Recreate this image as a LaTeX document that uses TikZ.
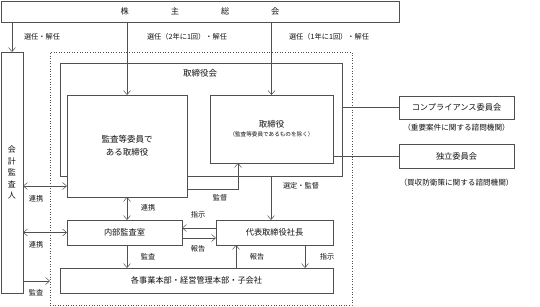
\documentclass[tikz,border=0pt]{standalone}
\usepackage{fontspec}
\setmainfont{Noto Sans CJK JP}
\usetikzlibrary{arrows.meta,positioning}
\definecolor{GovLine}{HTML}{505050}
\definecolor{GovInk}{HTML}{111111}

\begin{document}
\begin{tikzpicture}[
    x=1pt, y=-1pt,
    font=\fontsize{8.2}{10}\selectfont,
    >={Straight Barb[length=1.4mm,width=2.4mm]},
    box/.style={
        rectangle,
        draw=GovLine,
        line width=0.6pt,
        fill=white,
        inner sep=0pt,
        outer sep=0pt,
        align=center,
        text=GovInk
    },
    link/.style={
        ->,
        line width=0.5pt,
        draw=GovLine
    },
    twoway/.style={
        <->,
        line width=0.5pt,
        draw=GovLine
    },
    wire/.style={
        line width=0.5pt,
        draw=GovLine
    },
    tag/.style={
        inner sep=0pt,
        text=GovInk,
        font=\fontsize{7.2}{8}\selectfont
    },
    remark/.style={
        inner sep=0pt,
        text=GovInk,
        font=\fontsize{7.6}{9}\selectfont
    }
]
    \useasboundingbox (0,0) rectangle (540,307);

    \node[box, minimum width=398pt, minimum height=21pt] (meeting) at (200,11.5)
        {株\hspace{42pt}主\hspace{42pt}総\hspace{42pt}会};
    \node[box, minimum width=22pt, minimum height=241pt,
        font=\fontsize{8}{11.5}\selectfont] (auditor) at (12,172.5)
        {会\\計\\監\\査\\人};
    \node[draw=GovLine, dotted, line width=0.6pt, inner sep=0pt, outer sep=0pt,
        minimum width=302pt, minimum height=253pt] (group) at (201,178.5) {};
    \node[box, minimum width=282pt, minimum height=113pt] (board) at (201,119.5) {};
    \node[tag, font=\fontsize{8.5}{10}\selectfont] (boardname) at (200,73) {取締役会};
    \node[box, minimum width=120pt, minimum height=102pt,
        font=\fontsize{8.5}{13}\selectfont] (acd) at (127,146)
        {監査等委員で\\ある取締役};
    \node[box, minimum width=123pt, minimum height=68pt] (dir) at (271.5,129)
        {{\fontsize{8.5}{10}\selectfont 取締役}\\[-1pt]
         {\fontsize{5.6}{7}\selectfont （監査等委員であるものを除く）}};
    \node[box, minimum width=117pt, minimum height=25pt] (ceo) at (274.5,232.5)
        {代表取締役社長};
    \node[box, minimum width=115pt, minimum height=25pt] (iad) at (124.5,232.5)
        {内部監査室};
    \node[box, minimum width=273pt, minimum height=25pt] (units) at (196.5,280.5)
        {各事業本部・経営管理本部・子会社};
    \node[box, minimum width=115pt, minimum height=23pt] (comp) at (456.5,107.5)
        {コンプライアンス委員会};
    \node[remark, below=5pt of comp] (compnote) {（重要案件に関する諮問機関）};
    \node[box, minimum width=115pt, minimum height=24pt] (indep) at (456.5,156)
        {独立委員会};
    \node[remark, below=11pt of indep] (indepnote) {（買収防衛策に関する諮問機関）};

    \coordinate (supv) at (238,189);
    \coordinate (pick) at (271,0);
    \coordinate (repup) at (236,0);
    \coordinate (order) at (305,0);
    \coordinate (coopA) at (0,186);
    \coordinate (audit) at (0,281);

    \draw[link] (meeting.south -| auditor) -- (auditor.north);
    \draw[link] (meeting.south -| acd) -- (acd.north);
    \draw[link] (meeting.south -| dir) -- (dir.north);
    \draw[link] (acd.east |- supv) -| (dir.south -| supv);
    \draw[link] (board.south -| pick) -- (ceo.north -| pick);
    \draw[twoway] (acd.south) -- (acd.south |- iad.north);
    \draw[link] ([yshift=4.5pt]ceo.west) -- ([yshift=4.5pt]iad.east);
    \draw[link] ([yshift=-5.5pt]iad.east) -- ([yshift=-5.5pt]ceo.west);
    \draw[link] (iad.south -| acd) -- (units.north -| acd);
    \draw[link] (units.north -| repup) -- (ceo.south -| repup);
    \draw[link] (ceo.south -| order) -- (units.north -| order);
    \draw[twoway] (auditor.east |- coopA) -- (acd.west |- coopA);
    \draw[twoway] (auditor.east |- iad.west) -- (iad.west);
    \draw[link] (auditor.east |- audit) -- (group.west |- audit);
    \draw[wire] (board.east |- comp.west) -- (comp.west);
    \draw[wire] (dir.east |- indep.west) -- (indep.west);

    \node[tag] (electA) at (42,37) {選任・解任};
    \node[tag] (electB) at (187,37) {選任（2年に1回）・解任};
    \node[tag] (electC) at (329,37) {選任（1年に1回）・解任};
    \node[tag] (supvtag) at (220,198) {監督};
    \node[tag] (picktag) at (301,186) {選定・監督};
    \node[tag] (cooptag) at (148,208) {連携};
    \node[tag] (ordertagA) at (198,215) {指示};
    \node[tag] (reporttagA) at (198,249) {報告};
    \node[tag] (audittagA) at (148,257) {監査};
    \node[tag] (reporttagB) at (257,257) {報告};
    \node[tag] (ordertagB) at (327,257) {指示};
    \node[tag] (cooptagA) at (36,199) {連携};
    \node[tag] (cooptagB) at (36,245) {連携};
    \node[tag] (audittagB) at (36,293) {監査};
\end{tikzpicture}
\end{document}
